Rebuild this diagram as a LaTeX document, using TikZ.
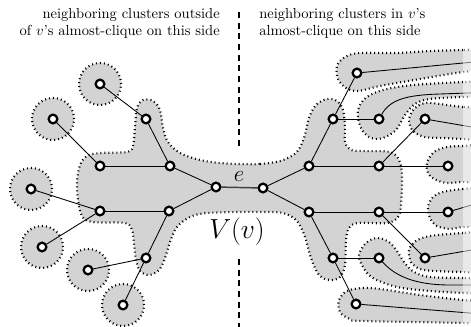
\documentclass[tikz,border=0pt]{standalone}
\definecolor{blobgray}{RGB}{211,211,211}
\tikzset{
  blob/.style={fill=blobgray, draw=black, line width=1.6pt, dash pattern=on 0.75pt off 2.25pt},
  vtx/.style={circle, draw=black, fill=white, line width=1.6pt, minimum size=6.4pt, inner sep=0pt},
  edg/.style={line width=0.65pt, black},
  eedge/.style={line width=1.1pt, black!75},
  sepline/.style={line width=1.1pt, dash pattern=on 4.5pt off 3.5pt},
  toptext/.style={inner sep=0pt, font=\fontsize{10.9}{12.6}\selectfont},
}
\begin{document}
\begin{tikzpicture}[x=0.75pt,y=-0.75pt]
\useasboundingbox (0,0) rectangle (471,326);
\clip (0,0) rectangle (471,326);

\coordinate (L1) at (100,84);
\coordinate (L2) at (53,119);
\coordinate (L6) at (31,189);
\coordinate (L9) at (42,247);
\coordinate (L11) at (88,270);
\coordinate (L12) at (123,305);

% ---------- blobs ----------
\foreach \c in {L1,L2,L6,L9,L11,L12}
  \draw[blob] (\c) circle[radius=15.75pt];

% central cluster
\draw[blob] plot[smooth cycle, tension=0.55] coordinates {
 (240,164) (260,164) (280,161) (296,153) (304,138) (309,118) (316,105) (327,99)
 (337,101) (343,110) (345,127) (345,142) (351,150) (365,151) (390,152) (399,160)
 (402,175) (401,205) (398,217) (387,223) (358,223) (349,228) (346,240) (345,265)
 (340,277) (330,280) (319,275) (311,258) (305,237) (297,221) (283,213) (260,212)
 (240,212) (207,213) (190,217) (177,227) (170,242) (165,258) (159,270) (149,275)
 (140,271) (136,260) (134,243) (132,230) (125,223) (92,222) (82,216) (78,200)
 (77,182) (80,165) (87,156) (100,153) (127,152) (133,146) (135,127) (137,108)
 (143,100) (153,101) (160,110) (163,128) (168,142) (180,153) (200,160) (220,163)};

% right bands
\draw[blob] plot[smooth cycle, tension=0.55] coordinates {
 (495,49) (463,50) (430,51) (397,53) (360,53) (345,57) (337,66) (338,79)
 (346,88) (358,91) (380,86) (420,79) (463,72) (495,69) (505,60)};
\draw[blob] plot[smooth cycle, tension=0.55] coordinates {
 (495,81) (463,82) (413,85) (383,90) (367,97) (359,107) (358,118) (362,130)
 (371,138) (383,138) (396,130) (405,115) (415,104) (430,99) (463,97) (495,97) (505,89)};
\draw[blob] plot[smooth cycle, tension=0.55] coordinates {
 (495,109) (463,107) (440,104) (425,103) (414,109) (409,120) (413,131)
 (425,137) (445,138) (463,139) (495,140) (505,125)};
\draw[blob] plot[smooth cycle, tension=0.55] coordinates {
 (495,145) (463,146) (447,147) (434,152) (427,163) (428,173) (434,179)
 (447,183) (463,182) (495,182) (505,164)};
\draw[blob] plot[smooth cycle, tension=0.55] coordinates {
 (495,188) (463,189) (443,192) (433,197) (428,207) (430,218) (437,226)
 (450,229) (463,227) (495,226) (505,207)};
\draw[blob] plot[smooth cycle, tension=0.55] coordinates {
 (495,232) (463,233) (430,236) (416,241) (409,250) (411,262) (420,269)
 (435,271) (463,272) (495,273) (505,252)};
\draw[blob] plot[smooth cycle, tension=0.55] coordinates {
 (495,279) (463,278) (430,277) (414,272) (404,262) (397,251) (389,242)
 (377,238) (366,243) (359,255) (363,267) (373,278) (397,287) (430,291)
 (463,293) (495,294) (505,286)};
\draw[blob] plot[smooth cycle, tension=0.55] coordinates {
 (495,302) (463,300) (420,295) (380,289) (363,288) (347,291) (339,300)
 (340,312) (350,319) (363,321) (463,323) (495,325) (505,313)};

% ---------- vertices ----------
\node[vtx] (l1) at (L1) {};
\node[vtx] (l2) at (L2) {};
\node[vtx] (l3) at (146,119) {};
\node[vtx] (l4) at (100,166) {};
\node[vtx] (l5) at (170,166) {};
\node[vtx] (e1) at (216,187) {};
\node[vtx] (l6) at (L6) {};
\node[vtx] (l7) at (100,211) {};
\node[vtx] (l8) at (169,211) {};
\node[vtx] (l9) at (L9) {};
\node[vtx] (l10) at (146,258) {};
\node[vtx] (l11) at (L11) {};
\node[vtx] (l12) at (L12) {};
\node[vtx] (e2) at (263,188) {};
\node[vtx] (r1) at (309,166) {};
\node[vtx] (r2) at (309,212) {};
\node[vtx] (r3) at (333,119) {};
\node[vtx] (r4) at (379,119) {};
\node[vtx] (r5) at (357,73) {};
\node[vtx] (r6) at (379,166) {};
\node[vtx] (r7) at (379,212) {};
\node[vtx] (r8) at (333,258) {};
\node[vtx] (r9) at (379,258) {};
\node[vtx] (r10) at (356,304) {};
\node[vtx] (r11) at (425,119) {};
\node[vtx] (r12) at (448,166) {};
\node[vtx] (r13) at (448,212) {};
\node[vtx] (r14) at (425,258) {};

\coordinate (c5) at (495,60);
\coordinate (c4) at (495,92);
\coordinate (c11) at (495,131);
\coordinate (c13) at (495,198);
\coordinate (c14) at (495,246);
\coordinate (c9) at (495,285);
\coordinate (c10) at (495,315);

% ---------- edges ----------
\draw[edg] (l1) -- (l3);
\draw[edg] (l3) -- (l5);
\draw[edg] (l2) -- (l4);
\draw[edg] (l4) -- (l5);
\draw[edg] (l5) -- (e1);
\draw[edg] (e1) -- (l8);
\draw[edg] (l8) -- (l7);
\draw[edg] (l7) -- (l6);
\draw[edg] (l7) -- (l9);
\draw[edg] (l8) -- (l10);
\draw[edg] (l10) -- (l11);
\draw[edg] (l10) -- (l12);
\draw[eedge] (e1) -- (e2);
\draw[edg] (e2) -- (r1);
\draw[edg] (e2) -- (r2);
\draw[edg] (r1) -- (r6);
\draw[edg] (r6) -- (r12);
\draw[edg] (r1) -- (r3);
\draw[edg] (r3) -- (r4);
\draw[edg] (r3) -- (r5);
\draw[edg] (r6) -- (r11);
\draw[edg] (r2) -- (r7);
\draw[edg] (r7) -- (r13);
\draw[edg] (r7) -- (r14);
\draw[edg] (r2) -- (r8);
\draw[edg] (r8) -- (r9);
\draw[edg] (r8) -- (r10);
\draw[edg] (r5) -- (c5);
\draw[edg] (r4) .. controls (390,100) and (405,95) .. (440,94) -- (c4);
\draw[edg] (r11) -- (c11);
\draw[edg] (r13) -- (c13);
\draw[edg] (r14) -- (c14);
\draw[edg] (r9) .. controls (395,276) and (415,285) .. (450,285) -- (c9);
\draw[edg] (r10) -- (c10);

% vertices on top of edges
\foreach \n in {l1,l2,l3,l4,l5,e1,l6,l7,l8,l9,l10,l11,l12,e2,r1,r2,r3,r4,r5,r6,r7,r8,r9,r10,r11,r12,r13,r14}
  \node[vtx] at (\n) {};

% fade at right edge
\fill[white, opacity=0.5] (463,0) rectangle (471,326);

% ---------- labels ----------
\node[inner sep=0pt] (lab-e) at (239,177) {\fontsize{19}{22}\selectfont$e$};
\node[inner sep=0pt] (lab-V) at (237,232) {\fontsize{21.5}{25}\selectfont$V(v)$};

\node[toptext, align=right, anchor=north east] (tl) at (220,8)
  {neighboring clusters outside\\ of $v$'s almost-clique on this side};
\node[toptext, align=left, anchor=north west] (tr) at (259,8)
  {neighboring clusters in $v$'s\\ almost-clique on this side};

\coordinate (s1) at (239,12);
\coordinate (s2) at (239,148);
\coordinate (s3) at (239,259);
\coordinate (s4) at (239,330);
\draw[sepline] (s1) -- (s2);
\draw[sepline] (s3) -- (s4);
\end{tikzpicture}
\end{document}
